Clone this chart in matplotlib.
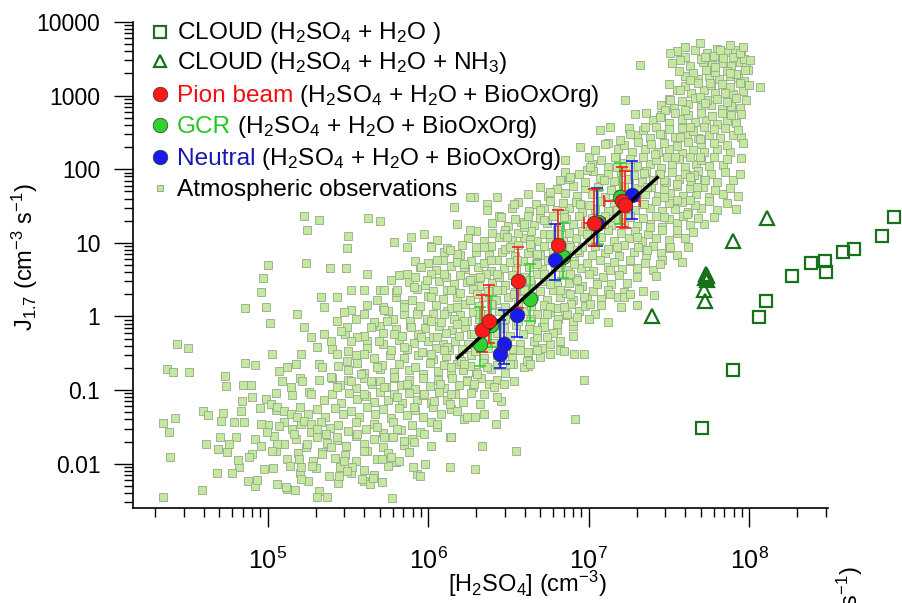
import numpy as np
import matplotlib
matplotlib.use("Agg")
import matplotlib.pyplot as plt
from matplotlib.ticker import LogLocator, NullFormatter, FuncFormatter

plt.rcParams['font.family'] = ['Liberation Sans', 'DejaVu Sans']
plt.rcParams['mathtext.fontset'] = 'custom'
plt.rcParams['mathtext.rm'] = 'Liberation Sans'
plt.rcParams['mathtext.it'] = 'Liberation Sans:italic'
plt.rcParams['mathtext.bf'] = 'Liberation Sans:bold'

# ---- data ----
# CLOUD, H2SO4 + H2O  (open squares)
cloud_h2so4 = [8.0e8, 6.7e8, 4.52e8, 3.83e8, 2.99e8, 3.01e8, 2.44e8, 1.85e8, 1.28e8, 1.15e8, 7.94e7, 5.05e7]
cloud_j = [22.4, 12.2, 8.24, 7.43, 5.65, 4.01, 5.38, 3.53, 1.60, 0.97, 0.186, 0.0309]

# CLOUD, H2SO4 + H2O + NH3  (open triangles)
nh3_h2so4 = [1.30e8, 7.93e7, 5.42e7, 5.50e7, 5.31e7, 5.43e7, 5.20e7, 5.32e7, 2.47e7]
nh3_j = [21.5, 10.5, 3.8, 3.55, 3.3, 3.16, 2.26, 1.60, 1.03]

# Pion beam
pion_h2so4 = [2.17e6, 2.39e6, 3.61e6, 6.41e6, 1.08e7, 1.61e7, 1.69e7]
pion_h2so4_lo = [2.17e6, 2.39e6, 3.61e6, 6.41e6, 9.3e6, 1.24e7, 1.69e7]
pion_h2so4_hi = [2.17e6, 2.39e6, 3.61e6, 6.41e6, 1.26e7, 2.09e7, 1.69e7]
pion_j = [0.65, 0.86, 3.0, 9.3, 18.6, 37.0, 33.0]
pion_j_lo = [0.33, 0.43, 1.3, 5.8, 9.2, 16.4, 16.0]
pion_j_hi = [1.93, 2.64, 8.8, 27.7, 54.6, 107.0, 95.0]

# GCR
gcr_h2so4 = [2.10e6, 2.47e6, 4.30e6, 6.89e6, 1.15e7, 1.57e7]
gcr_j = [0.42, 0.76, 1.74, 6.5, 19.2, 42.0]
gcr_j_lo = [0.215, 0.38, 0.88, 3.3, 9.5, 18.0]
gcr_j_hi = [1.34, 1.9, 5.2, 18.6, 52.0, 120.0]

# Neutral
neu_h2so4 = [2.82e6, 2.96e6, 3.58e6, 6.21e6, 1.13e7, 1.86e7]
neu_j = [0.31, 0.42, 1.06, 5.9, 18.2, 44.0]
neu_j_lo = [0.20, 0.227, 0.53, 3.1, 9.0, 21.0]
neu_j_hi = [0.9, 1.23, 2.8, 18.2, 55.0, 130.0]

# fitted line (end points)
fit_h2so4 = [1.50e6, 2.73e7]
fit_j = [0.265, 80.0]

# atmospheric observations, pairs of (log10 [H2SO4], log10 J)
atm_sparse = [
    (5.227, 1.365), (5.320, 1.306), (5.248, 1.179), (5.625, 1.337), (5.700, 1.297), (5.503, 1.088),
    (5.492, 0.929), (5.389, 0.657), (5.486, 0.657), (5.003, 0.703), (5.237, 0.725), (4.972, 0.526),
    (4.957, 0.331), (4.860, 0.118), (4.988, 0.127), (5.015, -0.091), (4.437, -0.372), (4.501, -0.431),
    (4.372, -0.712), (4.409, -0.758), (4.513, -0.749), (4.735, -0.803), (4.739, -0.939), (4.860, -0.635),
    (4.922, -0.658), (4.847, -0.926), (4.895, -0.926), (4.841, -1.143), (4.901, -1.098), (4.347, -1.452),
    (4.422, -1.378), (4.383, -1.565), (4.391, -1.909), (4.349, -2.449), (4.590, -2.359), (4.600, -1.279),
    (4.629, -1.338), (4.708, -1.415), (4.719, -1.311), (4.833, -1.279), (4.704, -1.642), (4.615, -1.733),
    (4.691, -1.801), (4.683, -2.132), (4.777, -2.132), (4.818, -1.946), (4.760, -1.733), (4.884, -1.914),
    (4.922, -2.300), (5.036, -2.059), (5.123, -2.345), (5.113, -2.313), (5.320, -2.368), (5.310, -2.458),
    (5.372, -2.458), (5.777, -2.472), (4.793, -1.438), (4.957, -1.460), (4.935, -2.220), (5.030, -1.823),
    (5.170, -2.360), (5.209, -2.209), (5.443, -2.163), (5.497, -2.095), (5.713, -2.254), (5.713, -1.937),
    (5.821, -1.960), (5.947, -2.163), (5.983, -2.005), (6.290, -1.370), (6.145, -1.640),
]
atm_lower = [
    (5.638, -2.277), (5.590, -2.209), (5.658, -2.200), (5.528, -2.050), (5.476, -1.960), (5.932, -2.141),
    (5.907, -2.050), (6.135, -2.050), (6.291, -2.077), (6.337, -1.765), (6.548, -1.828), (6.420, -1.461),
    (6.913, -1.397), (6.015, -1.756), (5.766, -1.914), (5.849, -1.688), (5.725, -1.642), (5.393, -1.778),
    (5.279, -2.027), (5.206, -2.050), (5.196, -1.937), (5.061, -1.733), (4.957, -1.756), (4.999, -1.574),
    (5.071, -1.483), (5.165, -1.597), (5.248, -1.733), (5.341, -1.869), (5.434, -1.642), (5.559, -1.597),
    (5.600, -1.823), (5.683, -1.506), (5.808, -1.529), (5.911, -1.710), (5.974, -1.597), (6.057, -1.506),
    (6.140, -1.642), (6.223, -1.392), (6.347, -1.325), (4.988, -1.120), (5.019, -1.188), (5.061, -1.234),
    (5.102, -1.279), (5.144, -1.325), (5.185, -1.370), (5.227, -1.415), (5.268, -1.461), (5.310, -1.529),
    (5.362, -1.597), (6.326, -1.188), (6.243, -1.369), (6.139, -1.641), (6.056, -1.460), (6.139, -1.188),
    (6.970, -0.870), (6.970, -0.508),
]
atm_mid = [
    (5.185, 0.036), (5.227, -0.145), (5.268, -0.281), (5.310, -0.418), (5.206, -0.508), (5.175, -0.644),
    (5.123, -0.690), (5.071, -0.735), (5.030, -0.508), (5.092, -0.871), (5.144, -0.962), (5.216, -0.871),
    (5.268, -1.052), (5.341, -0.690), (5.393, -0.826), (5.434, -0.962), (5.496, -0.599), (5.517, -0.871),
    (5.579, -0.780), (5.600, -1.052), (5.642, -0.871), (5.683, -0.690), (5.725, -0.962), (5.787, -0.826),
    (5.808, -1.098), (5.870, -0.916), (5.911, -1.234), (5.974, -1.052), (6.036, -1.143), (6.077, -0.916),
    (6.140, -1.052), (6.181, -1.279), (5.434, -0.055), (5.496, -0.145), (5.559, -0.281), (5.600, 0.036),
    (5.642, -0.145), (5.694, -0.327), (5.745, -0.055), (5.787, -0.236), (5.849, -0.418), (5.891, -0.145),
    (5.953, -0.281), (6.015, -0.508), (6.057, -0.281), (6.119, -0.418), (6.140, -0.690), (6.202, -0.599),
    (6.243, -0.871), (6.306, -0.780), (6.347, -1.052), (6.409, -0.962), (6.451, -1.143), (6.472, -1.325),
    (6.596, -0.690), (6.534, -0.871), (6.617, -0.599), (6.700, -0.554), (6.762, -0.508), (6.824, -0.327),
    (6.845, -0.463), (6.907, -0.508), (5.766, 0.489), (5.808, 0.353), (5.870, 0.580), (5.911, 0.399),
    (5.953, 0.671), (5.994, 0.489), (6.015, 0.263), (6.057, 0.762), (6.098, 0.580), (6.140, 0.353),
    (6.181, 0.852), (6.223, 0.671), (6.264, 0.489), (6.306, 0.308), (6.347, 0.943), (6.389, 0.762),
    (6.430, 0.580), (6.472, 1.124), (6.513, 0.943), (6.555, 0.762), (6.596, 1.215), (6.637, 1.034),
    (6.679, 0.852), (6.720, 1.306), (6.762, 1.124), (6.803, 0.671), (6.845, 1.397), (6.886, 0.943),
    (6.928, 0.489), (5.974, 1.124), (6.057, 1.034), (6.015, 0.943), (5.891, 1.079), (5.787, 1.011),
    (5.870, 0.943), (6.160, 1.487), (6.181, 1.260), (6.285, 1.623), (6.368, 1.532), (6.451, 1.351),
    (6.264, 1.170), (5.725, 0.353), (5.683, 0.217), (5.725, 0.081), (5.849, 0.127), (5.932, 0.036),
    (6.015, -0.055), (6.098, 0.036), (6.181, 0.127), (6.223, -0.055), (6.285, -0.236), (6.326, 0.036),
    (6.389, 0.172), (6.430, -0.100), (6.472, -0.327), (6.637, -0.055), (6.720, -0.145), (6.762, 0.127),
    (6.824, 0.353), (6.866, 0.036), (6.907, 0.716), (6.637, 0.489), (6.534, 0.308), (6.720, 0.580),
    (5.517, 0.353), (5.434, 0.263), (5.517, 0.081), (5.600, 0.353), (5.621, 0.580), (5.476, 0.059),
    (5.351, 0.127), (5.330, 0.263), (5.455, -0.191), (5.393, -0.327), (5.517, -0.327), (5.351, -0.236),
    (5.600, -0.508), (5.434, -0.508),
]
atm_upper = [
    (6.762, 1.692), (6.886, 1.896), (6.990, 1.987), (7.094, 1.851), (7.177, 2.032), (7.343, 1.942),
    (7.467, 1.851), (7.550, 1.805), (7.654, 1.919), (7.675, 1.760), (7.633, 1.579), (7.612, 1.397),
    (7.550, 1.171), (7.509, 0.944), (7.446, 0.717), (7.363, 0.898), (7.384, 1.216), (7.467, 1.352),
    (7.301, 1.080), (7.260, 0.762), (7.177, 0.944), (7.135, 0.626), (7.052, 0.445), (6.970, 0.263),
    (6.886, 0.309), (6.845, 0.128), (6.803, -0.099), (6.741, -0.281), (6.679, -0.462), (6.637, -0.643),
    (7.405, 0.286), (7.218, 0.264), (7.260, 0.309), (7.135, 0.309), (7.011, 0.173), (6.928, -0.009),
    (6.741, 0.037), (6.679, -0.190), (6.575, -0.462), (6.513, -0.643), (6.471, -0.916), (6.430, -1.097),
    (6.845, 1.352), (6.948, 1.533), (6.803, 1.125), (6.700, 1.443), (6.596, 1.261), (6.534, 1.533),
    (6.430, 1.624), (6.264, 1.624), (6.368, 1.443), (6.492, 1.080), (6.637, 0.989), (6.679, 0.717),
    (6.928, 0.898), (6.990, 1.125), (7.094, 1.261), (7.177, 1.443), (7.343, 1.533), (7.467, 1.624),
    (7.550, 1.579), (7.260, 1.352), (7.363, 1.760), (6.886, 0.581), (6.762, 0.445), (6.596, 0.354),
    (6.554, 0.082), (6.430, 0.354), (6.326, 0.536), (6.222, 0.717), (6.139, 0.898), (6.264, 0.218),
    (6.181, -0.099), (6.326, -0.190), (6.098, -0.462), (6.222, -0.643), (6.368, -0.689), (6.285, -0.916),
    (7.508, 3.573), (7.602, 3.664), (7.695, 3.709), (7.726, 3.528), (7.819, 3.619), (7.882, 3.687),
    (7.944, 3.573), (8.006, 3.483), (7.960, 3.664), (7.975, 3.347), (8.068, 3.120), (7.882, 3.301),
    (7.788, 3.392), (7.757, 3.165), (7.851, 3.029), (7.695, 2.984), (7.633, 3.211), (7.571, 3.075),
    (7.508, 2.938), (7.477, 2.802), (7.602, 2.802), (7.726, 2.893), (7.322, 3.415), (7.571, 3.483),
    (7.446, 2.712), (7.353, 2.576), (7.446, 2.485), (7.571, 2.440), (7.695, 2.417), (7.633, 2.576),
    (7.259, 2.485), (7.197, 2.394), (7.104, 2.349), (7.042, 2.258), (7.228, 2.938), (7.135, 2.576),
    (7.291, 2.757), (7.073, 2.530), (7.166, 2.167), (6.948, 2.303), (6.855, 2.122), (6.824, 1.850),
    (7.011, 2.031), (7.259, 2.031), (7.415, 2.213), (7.540, 2.167), (7.695, 2.167), (7.446, 1.941),
    (7.633, 1.895), (7.726, 1.850),
]
atm_core_top = [
    (7.55, 3.60), (7.66, 3.62), (7.74, 3.58), (7.80, 3.63), (7.86, 3.59), (7.91, 3.62), (7.95, 3.57),
    (7.52, 3.44), (7.63, 3.40), (7.71, 3.45), (7.77, 3.41), (7.83, 3.44), (7.89, 3.40), (7.94, 3.45), (7.98, 3.41),
    (7.60, 3.27), (7.68, 3.23), (7.75, 3.26), (7.81, 3.22), (7.88, 3.27), (7.93, 3.24), (7.97, 3.20),
    (7.55, 3.07), (7.64, 3.03), (7.72, 3.08), (7.79, 3.04), (7.85, 3.07), (7.90, 3.02), (7.96, 3.06),
    (7.45, 2.87), (7.53, 2.83), (7.62, 2.88), (7.70, 2.84), (7.76, 2.87), (7.83, 2.82), (7.89, 2.86), (7.94, 2.83),
    (7.40, 2.67), (7.50, 2.63), (7.58, 2.68), (7.66, 2.64), (7.73, 2.67), (7.80, 2.62), (7.86, 2.66), (7.92, 2.63),
    (7.30, 2.47), (7.38, 2.43), (7.46, 2.48), (7.54, 2.44), (7.61, 2.47), (7.68, 2.42), (7.75, 2.46), (7.82, 2.43),
    (7.90, 2.47), (7.95, 2.44),
    (7.18, 2.27), (7.27, 2.23), (7.35, 2.28), (7.43, 2.24), (7.50, 2.27), (7.58, 2.22), (7.65, 2.26), (7.72, 2.23),
    (7.80, 2.27), (7.88, 2.24),
    (7.02, 2.07), (7.12, 2.03), (7.22, 2.08), (7.30, 2.04), (7.38, 2.07), (7.45, 2.02), (7.52, 2.06), (7.60, 2.03),
    (7.67, 2.07), (7.75, 2.04), (7.84, 2.06),
    (6.88, 1.87), (6.98, 1.83), (7.07, 1.88), (7.16, 1.84), (7.25, 1.87), (7.33, 1.82), (7.40, 1.86), (7.48, 1.83),
    (7.56, 1.87), (7.64, 1.84), (7.72, 1.86), (7.80, 1.83), (7.90, 1.86),
]
atm_core_mid = [
    (6.62, 1.67), (6.75, 1.63), (6.85, 1.68), (6.93, 1.64), (7.02, 1.67), (7.10, 1.62), (7.18, 1.66), (7.27, 1.63),
    (7.35, 1.67), (7.43, 1.64), (7.51, 1.68), (7.59, 1.63), (7.67, 1.66), (7.75, 1.62), (7.84, 1.66), (7.93, 1.63),
    (6.52, 1.47), (6.63, 1.43), (6.72, 1.48), (6.80, 1.44), (6.88, 1.47), (6.96, 1.42), (7.04, 1.46), (7.12, 1.43),
    (7.20, 1.47), (7.29, 1.44), (7.38, 1.48), (7.46, 1.43), (7.54, 1.46), (7.62, 1.42), (7.70, 1.47), (7.80, 1.44),
    (7.92, 1.46),
    (6.40, 1.27), (6.50, 1.23), (6.58, 1.28), (6.66, 1.24), (6.74, 1.27), (6.82, 1.22), (6.90, 1.26), (6.98, 1.23),
    (7.06, 1.27), (7.14, 1.24), (7.22, 1.28), (7.30, 1.23), (7.38, 1.26), (7.46, 1.22), (7.55, 1.27), (7.63, 1.24),
    (7.72, 1.26),
    (6.25, 1.07), (6.35, 1.03), (6.44, 1.08), (6.52, 1.04), (6.60, 1.07), (6.68, 1.02), (6.76, 1.06), (6.84, 1.03),
    (6.92, 1.07), (7.00, 1.04), (7.08, 1.08), (7.16, 1.03), (7.25, 1.06), (7.33, 1.02), (7.42, 1.07), (7.50, 1.04),
    (7.60, 1.06),
    (6.10, 0.87), (6.20, 0.83), (6.30, 0.88), (6.38, 0.84), (6.46, 0.87), (6.54, 0.82), (6.62, 0.86), (6.70, 0.83),
    (6.78, 0.87), (6.86, 0.84), (6.94, 0.88), (7.02, 0.83), (7.10, 0.86), (7.19, 0.82), (7.28, 0.87), (7.36, 0.84),
    (7.45, 0.86), (7.55, 0.83),
    (5.95, 0.67), (6.05, 0.63), (6.14, 0.68), (6.23, 0.64), (6.31, 0.67), (6.39, 0.62), (6.47, 0.66), (6.55, 0.63),
    (6.63, 0.67), (6.71, 0.64), (6.79, 0.68), (6.87, 0.63), (6.95, 0.66), (7.03, 0.62), (7.12, 0.67), (7.21, 0.64),
    (7.30, 0.66), (7.40, 0.63),
    (5.88, 0.47), (5.98, 0.43), (6.07, 0.48), (6.16, 0.44), (6.24, 0.47), (6.32, 0.42), (6.40, 0.46), (6.48, 0.43),
    (6.56, 0.47), (6.64, 0.44), (6.72, 0.48), (6.80, 0.43), (6.88, 0.46), (6.96, 0.42), (7.05, 0.47), (7.14, 0.44),
    (7.24, 0.46),
    (5.80, 0.27), (5.90, 0.23), (6.00, 0.28), (6.09, 0.24), (6.18, 0.27), (6.26, 0.22), (6.34, 0.26), (6.42, 0.23),
    (6.50, 0.27), (6.58, 0.24), (6.66, 0.28), (6.74, 0.23), (6.82, 0.26), (6.90, 0.22), (6.99, 0.27), (7.08, 0.24),
    (7.18, 0.26),
]
atm_core_low = [
    (5.75, 0.07), (5.85, 0.03), (5.94, 0.08), (6.03, 0.04), (6.12, 0.07), (6.20, 0.02), (6.28, 0.06), (6.36, 0.03),
    (6.44, 0.07), (6.52, 0.04), (6.60, 0.08), (6.68, 0.03), (6.76, 0.06), (6.85, 0.02), (6.94, 0.07), (7.04, 0.04),
    (5.70, -0.13), (5.80, -0.17), (5.89, -0.12), (5.98, -0.16), (6.07, -0.13), (6.15, -0.18), (6.23, -0.14),
    (6.31, -0.17), (6.39, -0.13), (6.47, -0.16), (6.55, -0.12), (6.63, -0.17), (6.71, -0.14), (6.80, -0.18),
    (6.90, -0.13),
    (5.62, -0.33), (5.72, -0.37), (5.82, -0.32), (5.91, -0.36), (6.00, -0.33), (6.09, -0.38), (6.17, -0.34),
    (6.25, -0.37), (6.33, -0.33), (6.41, -0.36), (6.49, -0.32), (6.57, -0.37), (6.66, -0.34), (6.76, -0.37),
    (5.55, -0.53), (5.66, -0.57), (5.76, -0.52), (5.85, -0.56), (5.94, -0.53), (6.03, -0.58), (6.11, -0.54),
    (6.19, -0.57), (6.27, -0.53), (6.35, -0.56), (6.43, -0.52), (6.52, -0.57), (6.62, -0.54),
    (5.50, -0.73), (5.60, -0.77), (5.70, -0.72), (5.79, -0.76), (5.88, -0.73), (5.97, -0.78), (6.06, -0.74),
    (6.14, -0.77), (6.22, -0.73), (6.30, -0.76), (6.39, -0.72), (6.48, -0.77),
    (5.45, -0.93), (5.55, -0.97), (5.65, -0.92), (5.74, -0.96), (5.83, -0.93), (5.92, -0.98), (6.01, -0.94),
    (6.10, -0.97), (6.19, -0.93), (6.28, -0.96), (6.38, -0.92),
    (5.35, -1.13), (5.46, -1.17), (5.56, -1.12), (5.66, -1.16), (5.75, -1.13), (5.84, -1.18), (5.93, -1.14),
    (6.02, -1.17), (6.12, -1.13), (6.22, -1.16),
    (5.25, -1.33), (5.36, -1.37), (5.47, -1.32), (5.57, -1.36), (5.67, -1.33), (5.77, -1.38), (5.87, -1.34),
    (5.97, -1.37), (6.08, -1.33),
    (5.15, -1.53), (5.27, -1.57), (5.39, -1.52), (5.50, -1.56), (5.61, -1.53), (5.72, -1.58), (5.83, -1.54),
    (5.95, -1.57),
    (5.10, -1.73), (5.24, -1.77), (5.37, -1.72), (5.49, -1.76), (5.60, -1.73), (5.72, -1.78), (5.85, -1.74),
    (5.12, -1.93), (5.28, -1.97), (5.42, -1.92), (5.55, -1.96), (5.68, -1.93), (5.80, -1.98),
    (5.20, -2.13), (5.38, -2.17), (5.52, -2.12), (5.66, -2.16),
]
# in-between rows of the dense band
atm_fill_top = [
    (7.60, 3.53), (7.70, 3.50), (7.78, 3.54), (7.84, 3.51), (7.90, 3.53), (7.97, 3.50),
    (7.56, 3.34), (7.65, 3.31), (7.73, 3.35), (7.79, 3.32), (7.86, 3.34), (7.92, 3.30), (7.99, 3.35),
    (7.50, 3.16), (7.60, 3.13), (7.68, 3.17), (7.76, 3.14), (7.83, 3.16), (7.88, 3.12), (7.94, 3.17), (8.00, 3.14),
    (7.50, 2.96), (7.58, 2.93), (7.66, 2.97), (7.74, 2.94), (7.80, 2.96), (7.86, 2.92), (7.92, 2.97), (7.98, 2.94),
    (7.36, 2.76), (7.45, 2.73), (7.54, 2.77), (7.62, 2.74), (7.70, 2.76), (7.77, 2.72), (7.83, 2.77), (7.89, 2.74),
    (7.95, 2.75),
    (7.25, 2.56), (7.34, 2.53), (7.42, 2.57), (7.50, 2.54), (7.58, 2.56), (7.65, 2.52), (7.72, 2.57), (7.78, 2.54),
    (7.85, 2.56), (7.93, 2.53),
    (7.12, 2.36), (7.22, 2.33), (7.31, 2.37), (7.39, 2.34), (7.47, 2.36), (7.55, 2.32), (7.62, 2.37), (7.70, 2.34),
    (7.78, 2.36), (7.86, 2.33), (7.96, 2.35),
    (7.00, 2.16), (7.08, 2.13), (7.17, 2.17), (7.26, 2.14), (7.34, 2.16), (7.42, 2.12), (7.49, 2.17), (7.56, 2.14),
    (7.63, 2.16), (7.70, 2.13), (7.78, 2.17), (7.86, 2.14), (7.95, 2.15),
    (6.85, 1.96), (6.94, 1.93), (7.03, 1.97), (7.12, 1.94), (7.20, 1.96), (7.28, 1.92), (7.36, 1.97), (7.44, 1.94),
    (7.52, 1.96), (7.60, 1.93), (7.68, 1.97), (7.76, 1.94), (7.85, 1.96), (7.94, 1.93),
]
atm_fill_mid = [
    (6.70, 1.76), (6.80, 1.73), (6.90, 1.77), (6.98, 1.74), (7.06, 1.76), (7.14, 1.72), (7.22, 1.77), (7.30, 1.74),
    (7.39, 1.76), (7.47, 1.73), (7.55, 1.77), (7.63, 1.74), (7.71, 1.76), (7.79, 1.72), (7.88, 1.75),
    (6.56, 1.56), (6.67, 1.53), (6.76, 1.57), (6.84, 1.54), (6.92, 1.56), (7.00, 1.52), (7.08, 1.57), (7.16, 1.54),
    (7.24, 1.56), (7.33, 1.53), (7.42, 1.57), (7.50, 1.54), (7.58, 1.56), (7.66, 1.52), (7.75, 1.57), (7.86, 1.54),
    (6.44, 1.36), (6.54, 1.33), (6.62, 1.37), (6.70, 1.34), (6.78, 1.36), (6.86, 1.32), (6.94, 1.37), (7.02, 1.34),
    (7.10, 1.36), (7.18, 1.33), (7.26, 1.37), (7.34, 1.34), (7.42, 1.36), (7.50, 1.32), (7.59, 1.37), (7.68, 1.34),
    (7.78, 1.35),
    (6.30, 1.16), (6.40, 1.13), (6.48, 1.17), (6.56, 1.14), (6.64, 1.16), (6.72, 1.12), (6.80, 1.17), (6.88, 1.14),
    (6.96, 1.16), (7.04, 1.13), (7.12, 1.17), (7.20, 1.14), (7.29, 1.16), (7.37, 1.12), (7.46, 1.17), (7.55, 1.14),
    (7.65, 1.15),
    (6.02, 0.96), (6.12, 0.93), (6.21, 0.97), (6.30, 0.94), (6.39, 0.96), (6.48, 0.92), (6.56, 0.97), (6.64, 0.94),
    (6.72, 0.96), (6.80, 0.93), (6.88, 0.97), (6.96, 0.94), (7.04, 0.96), (7.12, 0.92), (7.22, 0.97), (7.31, 0.94),
    (7.40, 0.96), (7.50, 0.93), (7.62, 0.95),
    (5.92, 0.76), (6.00, 0.73), (6.09, 0.77), (6.18, 0.74), (6.27, 0.76), (6.35, 0.72), (6.43, 0.77), (6.51, 0.74),
    (6.59, 0.76), (6.67, 0.73), (6.75, 0.77), (6.83, 0.74), (6.91, 0.76), (6.99, 0.72), (7.07, 0.77), (7.16, 0.74),
    (7.26, 0.76), (7.35, 0.73), (7.46, 0.77), (7.58, 0.74),
    (5.82, 0.56), (5.92, 0.53), (6.02, 0.57), (6.11, 0.54), (6.20, 0.56), (6.28, 0.52), (6.36, 0.57), (6.44, 0.54),
    (6.52, 0.56), (6.60, 0.53), (6.68, 0.57), (6.76, 0.54), (6.84, 0.56), (6.92, 0.52), (7.00, 0.57), (7.09, 0.54),
    (7.19, 0.56), (7.30, 0.53), (7.42, 0.55),
    (5.70, 0.36), (5.80, 0.33), (5.93, 0.37), (6.03, 0.34), (6.12, 0.36), (6.20, 0.32), (6.28, 0.37), (6.37, 0.34),
    (6.46, 0.36), (6.54, 0.33), (6.62, 0.37), (6.70, 0.34), (6.78, 0.36), (6.86, 0.32), (6.94, 0.37), (7.03, 0.34),
    (7.12, 0.36), (7.22, 0.33), (7.34, 0.35),
    (5.62, 0.16), (5.72, 0.13), (5.85, 0.17), (5.95, 0.14), (6.05, 0.16), (6.14, 0.12), (6.23, 0.17), (6.32, 0.14),
    (6.40, 0.16), (6.48, 0.13), (6.56, 0.17), (6.64, 0.14), (6.72, 0.16), (6.80, 0.12), (6.89, 0.17), (6.98, 0.14),
    (7.08, 0.16), (7.20, 0.13), (7.30, 0.15),
]
atm_fill_low = [
    (5.55, -0.04), (5.66, -0.07), (5.78, -0.03), (5.89, -0.06), (5.99, -0.04), (6.08, -0.08), (6.16, -0.03),
    (6.24, -0.06), (6.32, -0.04), (6.40, -0.07), (6.48, -0.03), (6.56, -0.06), (6.64, -0.04), (6.72, -0.08),
    (6.81, -0.03), (6.90, -0.06), (7.00, -0.04), (7.12, -0.07),
    (5.48, -0.24), (5.60, -0.27), (5.72, -0.23), (5.84, -0.26), (5.94, -0.24), (6.03, -0.28), (6.11, -0.23),
    (6.19, -0.26), (6.27, -0.24), (6.35, -0.27), (6.43, -0.23), (6.51, -0.26), (6.59, -0.24), (6.68, -0.28),
    (6.78, -0.23), (6.90, -0.26),
    (5.40, -0.44), (5.50, -0.47), (5.62, -0.43), (5.77, -0.46), (5.87, -0.44), (5.96, -0.48), (6.05, -0.43),
    (6.13, -0.46), (6.21, -0.44), (6.29, -0.47), (6.37, -0.43), (6.45, -0.46), (6.53, -0.44), (6.62, -0.48),
    (6.71, -0.43), (6.82, -0.46),
    (5.32, -0.64), (5.44, -0.67), (5.56, -0.63), (5.71, -0.66), (5.82, -0.64), (5.92, -0.68), (6.01, -0.63),
    (6.10, -0.66), (6.18, -0.64), (6.26, -0.67), (6.34, -0.63), (6.43, -0.66), (6.53, -0.64), (6.62, -0.67),
    (5.20, -0.84), (5.32, -0.87), (5.40, -0.83), (5.50, -0.86), (5.60, -0.84), (5.70, -0.88), (5.79, -0.83),
    (5.88, -0.86), (5.97, -0.84), (6.06, -0.87), (6.15, -0.83), (6.24, -0.86), (6.33, -0.84), (6.43, -0.87),
    (5.05, -1.04), (5.15, -1.07), (5.26, -1.03), (5.40, -1.06), (5.51, -1.04), (5.61, -1.08), (5.70, -1.03),
    (5.79, -1.06), (5.88, -1.04), (5.97, -1.07), (6.07, -1.03), (6.17, -1.06), (6.27, -1.04),
    (4.95, -1.24), (5.05, -1.27), (5.20, -1.23), (5.31, -1.26), (5.42, -1.24), (5.52, -1.28), (5.62, -1.23),
    (5.72, -1.26), (5.82, -1.24), (5.92, -1.27), (6.03, -1.23), (6.14, -1.26),
    (4.85, -1.44), (5.00, -1.47), (5.10, -1.43), (5.21, -1.46), (5.33, -1.44), (5.44, -1.48), (5.55, -1.43),
    (5.66, -1.46), (5.78, -1.44), (5.90, -1.47), (6.02, -1.43),
    (4.80, -1.64), (4.92, -1.67), (5.04, -1.63), (5.18, -1.66), (5.31, -1.64), (5.43, -1.68), (5.55, -1.63),
    (5.66, -1.66), (5.78, -1.64), (5.90, -1.67),
    (4.75, -1.84), (4.90, -1.87), (5.05, -1.83), (5.19, -1.86), (5.34, -1.84), (5.48, -1.88), (5.62, -1.83),
    (5.75, -1.86), (5.88, -1.84),
    (4.82, -2.04), (4.98, -2.07), (5.14, -2.03), (5.30, -2.06), (5.45, -2.04), (5.60, -2.08), (5.75, -2.03),
    (4.88, -2.24), (5.06, -2.27), (5.25, -2.23), (5.44, -2.26), (5.60, -2.24),
]

# ---- colours ----
c_cloud = '#17701a'
c_pion = '#ff1a1a'
c_gcr = '#2fd22f'
c_neu = '#1a1aee'
c_atm_face = '#c4e8a0'
c_atm_edge = '#95a98a'

fig = plt.figure(figsize=(9.02, 6.03), dpi=100)
ax = fig.add_axes([133 / 902, 1 - 508 / 603, 695 / 902, 486 / 603])
ax.set_xscale('log')
ax.set_yscale('log')
ax.set_xlim(1.45e4, 3.1e8)
ax.set_ylim(0.0025, 10000)

# atmospheric observations
atm = np.array(atm_core_low + atm_fill_low + atm_core_mid + atm_fill_mid + atm_core_top + atm_fill_top
               + atm_lower + atm_mid + atm_sparse + atm_upper)
ax.plot(10 ** atm[:, 0], 10 ** atm[:, 1], ls='none', marker='s', ms=5.6, mfc=c_atm_face,
        mec=c_atm_edge, mew=0.6, zorder=2)

# CLOUD reference runs
ax.plot(cloud_h2so4, cloud_j, ls='none', marker='s', ms=9, mfc='none', mec=c_cloud, mew=1.6,
        clip_on=False, zorder=3)
ax.plot(nh3_h2so4, nh3_j, ls='none', marker='^', ms=9.5, mfc='none', mec=c_cloud, mew=1.6,
        clip_on=False, zorder=3)


def yerr(y, lo, hi):
    y = np.array(y)
    return [y - np.array(lo), np.array(hi) - y]


eb = dict(fmt='none', elinewidth=1.2, capsize=4.5, capthick=1.2, zorder=4)
ax.errorbar(gcr_h2so4, gcr_j, yerr=yerr(gcr_j, gcr_j_lo, gcr_j_hi), ecolor=c_gcr, **eb)
ax.errorbar(neu_h2so4, neu_j, yerr=yerr(neu_j, neu_j_lo, neu_j_hi), ecolor=c_neu, **eb)
ax.errorbar(pion_h2so4, pion_j, yerr=yerr(pion_j, pion_j_lo, pion_j_hi),
            xerr=yerr(pion_h2so4, pion_h2so4_lo, pion_h2so4_hi), ecolor=c_pion, **eb)

ax.plot(gcr_h2so4, gcr_j, 'o', ms=10.5, mfc=c_gcr, mec='#333333', mew=0.5, zorder=5)
ax.plot(neu_h2so4, neu_j, 'o', ms=10.5, mfc=c_neu, mec='#333333', mew=0.5, zorder=5)
ax.plot(fit_h2so4, fit_j, color='black', lw=2.4, solid_capstyle='butt', zorder=6)
ax.plot(pion_h2so4, pion_j, 'o', ms=10.5, mfc=c_pion, mec='#333333', mew=0.5, zorder=7)

# ---- axes styling ----
for s in ['top', 'right']:
    ax.spines[s].set_visible(False)
for s in ['left', 'bottom']:
    ax.spines[s].set_linewidth(1.2)

ax.xaxis.set_major_locator(LogLocator(base=10, subs=(1.0,)))
ax.xaxis.set_minor_locator(LogLocator(base=10, subs=np.arange(2, 10), numticks=20))
ax.xaxis.set_minor_formatter(NullFormatter())
ax.yaxis.set_major_locator(LogLocator(base=10, subs=(1.0,), numticks=20))
ax.yaxis.set_minor_locator(LogLocator(base=10, subs=np.arange(2, 10), numticks=20))
ax.yaxis.set_minor_formatter(NullFormatter())
ax.yaxis.set_major_formatter(FuncFormatter(lambda v, p: '%g' % v))

ax.tick_params(which='major', direction='out', length=13.5, width=1.0, labelsize=16.5)
ax.tick_params(which='minor', direction='out', length=6.5, width=1.0)
ax.tick_params(axis='x', which='major', pad=15, labelsize=18)
ax.tick_params(axis='y', which='major', pad=10)

ax.set_xlabel('[H$_2$SO$_4$] (cm$^{-3}$)', fontsize=17)
ax.xaxis.set_label_coords(0.568, -0.125)
ax.set_ylabel('J$_{1.7}$ (cm$^{-3}$ s$^{-1}$)', fontsize=17)
ax.yaxis.set_label_coords(-0.134, 0.516)

# ---- legend, drawn by hand ----
leg_y = [0.980, 0.920, 0.852, 0.788, 0.722, 0.658]
mx, tx, fs = 0.0388, 0.0633, 17.6
kw = dict(transform=ax.transAxes, clip_on=False, zorder=8)
ax.plot([mx], [leg_y[0]], marker='s', ms=8.5, mfc='none', mec=c_cloud, mew=1.6, **kw)
ax.plot([mx], [leg_y[1]], marker='^', ms=9, mfc='none', mec=c_cloud, mew=1.6, **kw)
ax.plot([mx], [leg_y[2]], marker='o', ms=10.5, mfc=c_pion, mec='#333333', mew=0.5, **kw)
ax.plot([mx], [leg_y[3]], marker='o', ms=10.5, mfc=c_gcr, mec='#333333', mew=0.5, **kw)
ax.plot([mx], [leg_y[4]], marker='o', ms=10.5, mfc=c_neu, mec='#333333', mew=0.5, **kw)
ax.plot([mx], [leg_y[5]], marker='s', ms=5, mfc=c_atm_face, mec=c_atm_edge, mew=0.7, **kw)

rest = ' (H$_2$SO$_4$ + H$_2$O + BioOxOrg)'
ax.text(tx, leg_y[0] - 0.016, 'CLOUD (H$_2$SO$_4$ + H$_2$O )', transform=ax.transAxes,
        va='baseline', fontsize=fs)
ax.text(tx, leg_y[1] - 0.016, 'CLOUD (H$_2$SO$_4$ + H$_2$O + NH$_3$)', transform=ax.transAxes,
        va='baseline', fontsize=fs)
for row, word, col in [(2, 'Pion beam', '#f01010'), (3, 'GCR', '#22c822'), (4, 'Neutral', '#1818b0')]:
    t = ax.text(tx, leg_y[row] - 0.016, word, color=col, transform=ax.transAxes,
                va='baseline', fontsize=fs)
    ax.annotate(rest, xy=(1, leg_y[row] - 0.016), xycoords=(t, 'axes fraction'),
                va='baseline', ha='left', fontsize=fs)
ax.text(tx, leg_y[5] - 0.016, 'Atmospheric observations', transform=ax.transAxes,
        va='baseline', fontsize=fs)

# label of the neighbouring panel, cut by the bottom edge
fig.text(0.942, 0.061, 'J$_{1.7}$ (cm$^{-3}$ s$^{-1}$)', rotation=90, va='top', ha='center', fontsize=17)

fig.savefig('out.png', dpi=100)
